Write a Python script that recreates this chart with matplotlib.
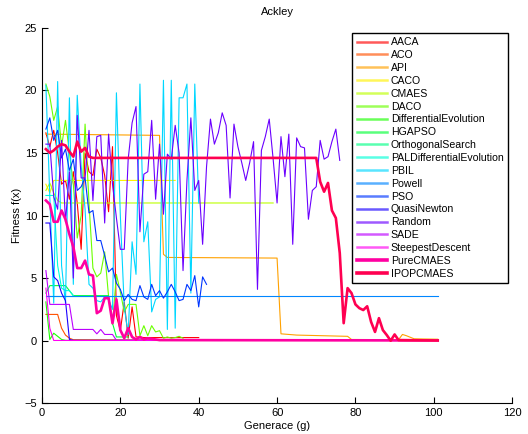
import matplotlib
matplotlib.use("Agg")
import matplotlib.pyplot as plt
from matplotlib.colors import hsv_to_rgb

plt.rcParams['font.family'] = ['Liberation Sans', 'DejaVu Sans']

# ---- data: generation -> best fitness, one pair of lists per algorithm ----
aaca_x = list(range(1, 27)) + [40]
aaca_y = [16.6, 15.5, 16.8, 15.0, 12.5, 12.8, 11.3, 13.5, 11.0, 7.3, 15.0, 13.5, 13.2,
          15.3, 14.6, 13.2, 10.3, 15.5, 2.0, 0.8, 3.1, 0.2, 2.7, 0.3, 0.3, 0.25, 0.25]

aco_x = [1, 4, 5, 6, 7, 8, 46]
aco_y = [2.1, 2.1, 1.0, 0.45, 0.2, 0.08, 0.03]

api_x = [1, 30, 31, 32, 60, 61, 65, 78, 79, 91, 92, 93, 95, 101]
api_y = [16.5, 16.4, 6.9, 6.65, 6.6, 0.55, 0.45, 0.35, 0.1, 0.08, 0.5, 0.4, 0.15, 0.12]

caco_x = [1, 2, 3, 34]
caco_y = [12.5, 11.8, 12.8, 12.8]

cmaes_x = [1, 2, 3, 4, 5, 59]
cmaes_y = [12.0, 12.6, 11.8, 11.2, 11.0, 11.0]

daco_x = list(range(1, 37))
daco_y = [20.5, 19.5, 17.6, 18.7, 15.5, 17.6, 15.0, 12.5, 8.2, 10.0, 17.3, 11.0, 5.8,
          5.1, 5.4, 7.1, 3.5, 1.3, 5.3, 3.9, 2.3, 2.9, 2.9, 2.9, 0.4, 1.2, 0.4, 1.2,
          0.7, 0.8, 0.2, 0.3, 0.2, 0.25, 0.35, 0.2]

de_x = [1, 2, 3, 4, 5, 6, 7, 30]
de_y = [3.1, 0.1, 0.6, 0.35, 0.1, 0.03, 0.02, 0.02]

hgapso_x = [1, 2, 6, 7, 8, 17, 18, 19, 22]
hgapso_y = [3.8, 4.4, 4.4, 4.0, 3.6, 3.6, 1.4, 0.3, 0.3]

orth_x = [1, 20]
orth_y = [3.6, 3.6]

palde_x = [1, 2, 3, 4, 5, 6, 7, 8]
palde_y = [11.6, 11.6, 11.6, 6.0, 4.2, 4.0, 4.0, 3.6]

pbil_x = list(range(1, 41))
pbil_y = [20.4, 11.5, 3.0, 20.7, 6.0, 3.0, 19.4, 4.5, 19.6, 14.0, 10.5, 4.5, 4.2,
          3.2, 3.1, 3.5, 3.3, 2.5, 19.8, 10.0, 2.7, 0.5, 7.9, 5.3, 20.5, 7.9, 9.5,
          2.3, 3.3, 3.5, 20.8, 0.9, 20.8, 1.0, 19.4, 19.4, 20.5, 3.8, 20.5, 11.0]

powell_x = [1, 101]
powell_y = [3.6, 3.6]

pso_x = list(range(1, 43))
pso_y = [16.9, 17.8, 16.0, 16.8, 14.6, 15.3, 13.6, 14.5, 12.0, 12.3, 13.0, 10.2, 10.4,
         8.0, 8.0, 6.8, 5.5, 5.8, 4.6, 4.1, 3.2, 3.7, 3.3, 3.2, 4.4, 3.5, 3.3, 4.5,
         3.6, 4.0, 3.4, 3.9, 4.5, 3.9, 3.2, 3.3, 4.5, 4.0, 5.2, 2.7, 5.1, 4.5]

qn_x = [1, 2, 3, 4, 5, 6, 7, 8, 101]
qn_y = [9.4, 9.4, 5.1, 4.8, 3.8, 3.2, 0.1, 0.03, 0.03]

random_x = list(range(1, 77))
random_y = [15.7, 15.7, 11.5, 10.5, 16.0, 9.5, 13.5, 5.0, 18.0, 13.0, 13.0, 16.8, 11.2,
            16.3, 16.4, 9.4, 16.5, 12.5, 9.8, 7.3, 7.3, 14.5, 17.4, 18.7, 8.7, 13.3,
            13.5, 17.6, 11.3, 15.7, 10.1, 14.9, 14.5, 17.2, 15.0, 5.6, 12.8, 17.8,
            12.0, 12.8, 7.7, 13.9, 17.7, 15.7, 16.6, 18.2, 17.2, 11.4, 17.3, 15.5,
            14.2, 12.8, 14.2, 15.9, 4.1, 15.2, 16.3, 17.7, 14.5, 11.0, 16.3, 13.1,
            16.5, 7.7, 16.2, 15.5, 15.4, 9.7, 12.0, 12.3, 16.0, 14.5, 14.7, 15.9,
            16.9, 14.4]

sade_x = [1, 2, 7, 8, 13, 14, 15, 16, 18, 19, 46]
sade_y = [5.6, 2.9, 2.9, 0.9, 0.9, 0.55, 0.9, 0.5, 0.5, 0.03, 0.02]

steep_x = [1, 2, 3, 46]
steep_y = [4.2, 1.0, 0.02, 0.02]

pure_x = list(range(1, 31)) + [101]
pure_y = [11.2, 10.9, 9.5, 9.5, 10.4, 9.7, 8.5, 7.5, 5.8, 5.8, 6.4, 5.3, 5.2, 2.2,
          2.4, 3.4, 3.4, 1.4, 3.3, 0.85, 0.2, 1.0, 0.3, 0.1, 0.3, 0.1, 0.2, 0.15,
          0.1, 0.05, 0.02]

ipop_x = list(range(1, 14)) + list(range(70, 92)) + [101]
ipop_y = [15.3, 15.0, 15.2, 15.5, 15.7, 15.6, 15.1, 14.7, 15.9, 15.1, 15.4, 14.7, 14.6,
          14.6, 12.7, 11.9, 12.6, 10.4, 9.8, 7.0, 1.4, 4.2, 3.8, 2.9, 2.6, 2.45,
          2.75, 1.5, 0.7, 1.8, 0.85, 0.45, 0.0, 0.5, 0.05, 0.02]

names = ['AACA', 'ACO', 'API', 'CACO', 'CMAES', 'DACO', 'DifferentialEvolution',
         'HGAPSO', 'OrthogonalSearch', 'PALDifferentialEvolution', 'PBIL', 'Powell',
         'PSO', 'QuasiNewton', 'Random', 'SADE', 'SteepestDescent', 'PureCMAES',
         'IPOPCMAES']
series = [(aaca_x, aaca_y), (aco_x, aco_y), (api_x, api_y), (caco_x, caco_y),
          (cmaes_x, cmaes_y), (daco_x, daco_y), (de_x, de_y), (hgapso_x, hgapso_y),
          (orth_x, orth_y), (palde_x, palde_y), (pbil_x, pbil_y),
          (powell_x, powell_y), (pso_x, pso_y), (qn_x, qn_y), (random_x, random_y),
          (sade_x, sade_y), (steep_x, steep_y), (pure_x, pure_y), (ipop_x, ipop_y)]

thick = ('PureCMAES', 'IPOPCMAES')

# ---- figure ----
fig = plt.figure(figsize=(5.28, 4.34), dpi=100)
ax = fig.add_axes([0.0795, 0.0707, 0.8905, 0.8655])

n = len(names)
colors = [tuple(hsv_to_rgb((i / n, 1.0, 1.0))) for i in range(n)]
for name, (xs, ys), color in zip(names, series, colors):
    lw = 1.9 if name in thick else 0.8
    ax.plot(xs, ys, color=color, lw=lw, label=name)

ax.set_xlim(0, 120)
ax.set_ylim(-5, 25)
ax.set_xticks(range(0, 121, 20))
ax.set_yticks(range(-5, 26, 5))
ax.set_yticklabels(['\u22125'] + [str(v) for v in range(0, 26, 5)])
ax.spines['top'].set_visible(False)
ax.spines['right'].set_visible(False)
ax.tick_params(direction='in', length=4, width=0.8, labelsize=8, top=False, right=False)

ax.set_title('Ackley', fontsize=8, pad=9)
ax.set_xlabel('Generace (g)', fontsize=8, labelpad=2)
ax.set_ylabel('Fitness f(x)', fontsize=8, labelpad=2)

leg = ax.legend(loc='upper right', bbox_to_anchor=(0.992, 0.987), fontsize=7.6,
                frameon=True, fancybox=False, edgecolor='black', framealpha=1,
                handlelength=2.9, handletextpad=0.35, labelspacing=0.27,
                borderpad=0.45, borderaxespad=0.0)
leg.get_frame().set_linewidth(1.0)
for h, name in zip(leg.get_lines(), names):
    h.set_linewidth(2.6 if name in thick else 1.8)
    h.set_alpha(1.0 if name in thick else 0.65)

fig.savefig('out.png', dpi=100)
